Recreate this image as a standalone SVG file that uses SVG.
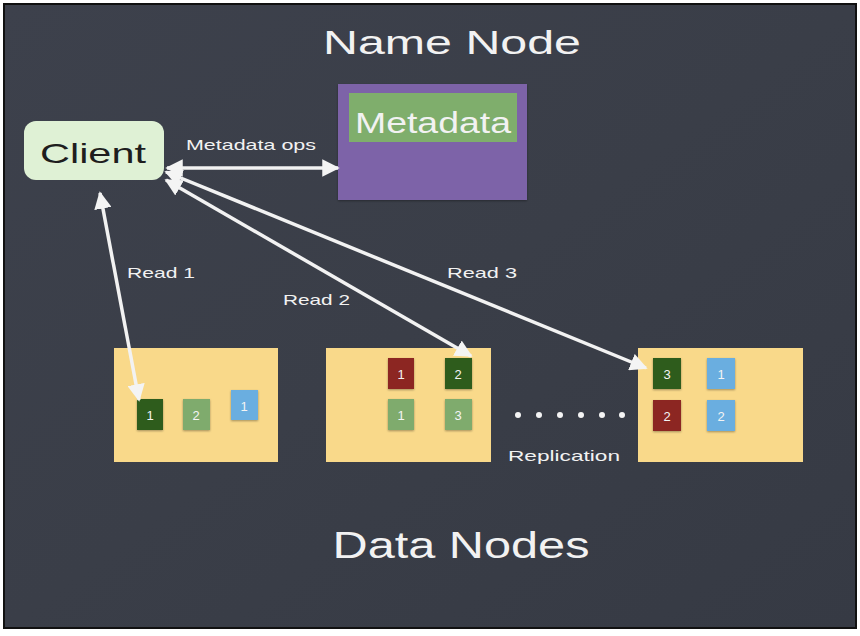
<svg xmlns="http://www.w3.org/2000/svg" width="860" height="636" viewBox="0 0 860 636">
<defs>
<linearGradient id="board" x1="0" y1="0" x2="1" y2="1">
<stop offset="0" stop-color="#3d414c"/>
<stop offset="0.5" stop-color="#3a3e48"/>
<stop offset="1" stop-color="#363a44"/>
</linearGradient>
<marker id="ah" viewBox="0 0 10 10" refX="9" refY="5" markerWidth="5" markerHeight="5" orient="auto-start-reverse" markerUnits="strokeWidth">
<path d="M0,0 L10,5 L0,10 z" fill="#f4f4f4"/>
</marker>
<filter id="sh" x="-20%" y="-20%" width="140%" height="140%">
<feDropShadow dx="0" dy="1" stdDeviation="1.2" flood-color="#000" flood-opacity="0.35"/>
</filter>
</defs>
<style>
.chalk{font-family:"Liberation Sans","DejaVu Sans",sans-serif;fill:#f2f2f2}
.title{font-size:34px}
.lbl{font-size:15px}
.blk{font-family:"Liberation Sans",sans-serif;font-size:13px;fill:#f4f4f4;text-anchor:middle}
.conn{stroke:#f2f2f2;stroke-width:3.5;fill:none;marker-start:url(#ah);marker-end:url(#ah)}
.dn{fill:#f9d98a}
.dg{fill:#2d5c1d}
.lg{fill:#7fab6d}
.bl{fill:#6aaee0}
.rd{fill:#8c2823}
</style>
<rect x="0" y="0" width="860" height="636" fill="#ffffff"/>
<rect x="4" y="4" width="852" height="624" fill="url(#board)" stroke="#111" stroke-width="2"/>

<g id="title-name-node">
<text class="chalk title" x="452" y="54" text-anchor="middle" textLength="258" lengthAdjust="spacingAndGlyphs">Name Node</text>
</g>

<g id="name-node">
<rect x="338" y="84" width="189" height="116" fill="#7d63a8" filter="url(#sh)"/>
<rect x="349" y="93" width="168" height="49" fill="#7fae6c"/>
<text class="chalk" x="433" y="133" font-size="30" text-anchor="middle" textLength="156" lengthAdjust="spacingAndGlyphs">Metadata</text>
</g>

<g id="client">
<rect x="24" y="121" width="140" height="59" rx="12" fill="#dff1d5"/>
<text x="93" y="163" font-family="Liberation Sans, DejaVu Sans, sans-serif" font-size="28" fill="#1e1e1e" text-anchor="middle" textLength="106" lengthAdjust="spacingAndGlyphs">Client</text>
</g>

<g id="labels">
<text class="chalk lbl" x="186" y="150" textLength="130" lengthAdjust="spacingAndGlyphs">Metadata ops</text>
<text class="chalk lbl" x="127" y="278" textLength="68" lengthAdjust="spacingAndGlyphs">Read 1</text>
<text class="chalk lbl" x="283" y="305" textLength="67" lengthAdjust="spacingAndGlyphs">Read 2</text>
<text class="chalk lbl" x="447" y="278" textLength="70" lengthAdjust="spacingAndGlyphs">Read 3</text>
<text class="chalk lbl" x="508" y="461" textLength="112" lengthAdjust="spacingAndGlyphs">Replication</text>
</g>

<g id="data-node-1">
<rect class="dn" x="114" y="348" width="164" height="114"/>
<rect class="dg" x="137" y="399" width="26" height="31" filter="url(#sh)"/>
<text class="blk" x="150" y="420">1</text>
<rect class="lg" x="183" y="399" width="27" height="31" filter="url(#sh)"/>
<text class="blk" x="196" y="420">2</text>
<rect class="bl" x="231" y="390" width="27" height="30" filter="url(#sh)"/>
<text class="blk" x="244" y="411">1</text>
</g>

<g id="data-node-2">
<rect class="dn" x="326" y="348" width="165" height="114"/>
<rect class="rd" x="388" y="358" width="26" height="31" filter="url(#sh)"/>
<text class="blk" x="401" y="379">1</text>
<rect class="dg" x="445" y="358" width="27" height="31" filter="url(#sh)"/>
<text class="blk" x="458" y="379">2</text>
<rect class="lg" x="388" y="399" width="26" height="31" filter="url(#sh)"/>
<text class="blk" x="401" y="420">1</text>
<rect class="lg" x="445" y="399" width="27" height="31" filter="url(#sh)"/>
<text class="blk" x="458" y="420">3</text>
</g>

<g id="replication-dots" fill="#f4f4f4">
<circle cx="518" cy="415" r="3"/>
<circle cx="539" cy="415" r="3"/>
<circle cx="560" cy="415" r="3"/>
<circle cx="581" cy="415" r="3"/>
<circle cx="602" cy="415" r="3"/>
<circle cx="622" cy="415" r="3"/>
</g>

<g id="data-node-3">
<rect class="dn" x="638" y="348" width="165" height="114"/>
<rect class="dg" x="653" y="358" width="28" height="31" filter="url(#sh)"/>
<text class="blk" x="667" y="379">3</text>
<rect class="bl" x="707" y="358" width="28" height="31" filter="url(#sh)"/>
<text class="blk" x="721" y="379">1</text>
<rect class="rd" x="653" y="400" width="28" height="31" filter="url(#sh)"/>
<text class="blk" x="667" y="421">2</text>
<rect class="bl" x="707" y="400" width="28" height="31" filter="url(#sh)"/>
<text class="blk" x="721" y="421">2</text>
</g>

<g id="title-data-nodes">
<text class="chalk" x="461" y="558" font-size="36" text-anchor="middle" textLength="257" lengthAdjust="spacingAndGlyphs">Data Nodes</text>
</g>

<g id="connectors">
<line class="conn" x1="167" y1="168" x2="338" y2="168"/>
<line class="conn" x1="100" y1="193" x2="139" y2="400"/>
<line class="conn" x1="166" y1="180" x2="471" y2="356"/>
<line class="conn" x1="166" y1="172" x2="646" y2="368"/>
</g>
</svg>
